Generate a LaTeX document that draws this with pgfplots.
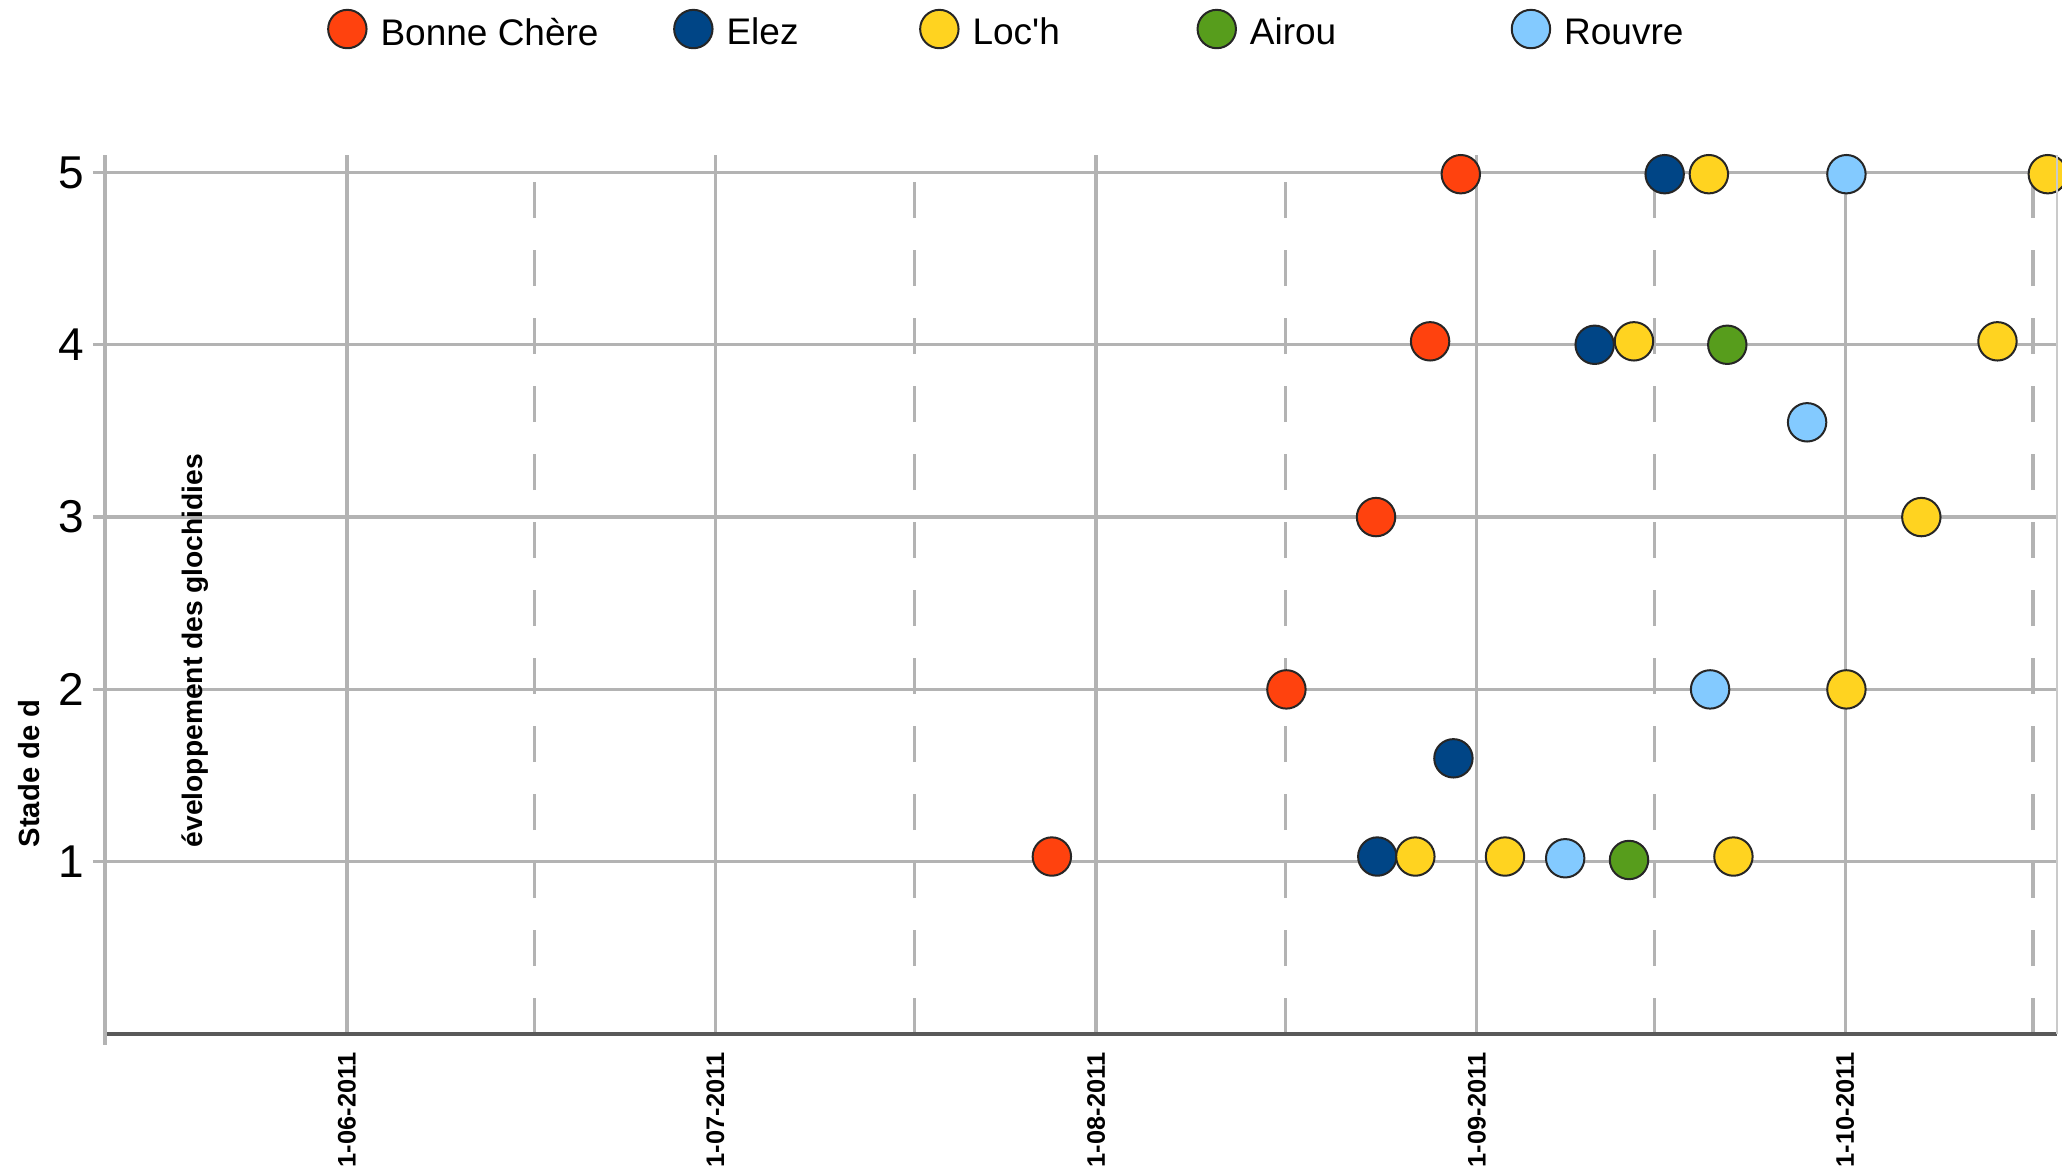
\documentclass[border=0pt]{standalone}
\usepackage{fontspec}
\setmainfont{Liberation Sans}
\usepackage{pgfplots}
\pgfplotsset{compat=1.18}

\definecolor{bonne}{HTML}{FF420E}
\definecolor{elez}{HTML}{004586}
\definecolor{loch}{HTML}{FFD320}
\definecolor{airou}{HTML}{579D1C}
\definecolor{rouvre}{HTML}{83CAFF}
\definecolor{grille}{HTML}{B3B3B3}

% jours comptés depuis le 1er juin 2011
\pgfplotsset{
  pastille/.style={only marks, mark=*, mark size=4.8pt,
    mark options={draw=black!85, line width=0.5pt, fill=#1},
    legend image code/.code={\draw[##1] plot coordinates {(0pt,0pt)};}},
}

\begin{document}
\begin{tikzpicture}
\begin{axis}[
    scale only axis,
    width=488pt, height=219.7pt,
    xmin=-19.7, xmax=139.25,
    ymin=0, ymax=5.1,
    clip=false,
    axis x line*=bottom,
    axis y line*=left,
    x axis line style={draw=black!65, line width=1.2pt},
    y axis line style={draw=grille, line width=0.8pt},
    xtick={0,30,61,92,122},
    xticklabels={1-06-2011,1-07-2011,1-08-2011,1-09-2011,1-10-2011},
    minor xtick={15.3,46.2,76.4,106.5,137.3},
    xtick style={draw=none},
    minor x tick style={draw=none},
    xmajorgrids, xminorgrids,
    major x grid style={grille, line width=0.8pt},
    minor x grid style={grille, line width=0.8pt, dash pattern=on 9pt off 8pt},
    ytick={1,2,3,4,5},
    ymajorgrids,
    major y grid style={grille, line width=0.8pt},
    ytick style={grille, line width=0.8pt},
    ytick align=outside,
    major tick length=3pt,
    /pgf/number format/assume math mode=true,
    xticklabel style={font=\bfseries\fontsize{6.35}{7}\selectfont, rotate=90, anchor=east, inner sep=0pt, xshift=-4.5pt},
    yticklabel style={font=\fontsize{11.5}{12}\selectfont, anchor=east, inner sep=0pt, xshift=-2pt},
    legend columns=5,
    legend style={draw=none, fill=none, inner sep=0pt,
      at={(0.1139,1.1436)}, anchor=west,
      font=\fontsize{9.25}{10}\selectfont,
      nodes={inner sep=0pt},
      /tikz/every odd column/.append style={column sep=3.5pt},
      /tikz/every even column/.append style={column sep=0pt}},
]

\addplot[pastille=bonne] coordinates {
    (57.4,1.03) (76.5,2.0) (83.8,3.0) (88.2,4.02) (90.7,4.99)
};
\addlegendentry{\makebox[73.4pt][l]{\raisebox{-2.7pt}{Bonne Chère}}}

\addplot[pastille=elez] coordinates {
    (83.9,1.03) (90.1,1.6) (101.6,4.0) (107.3,4.99)
};
\addlegendentry{\makebox[48.4pt][l]{\raisebox{-2.7pt}{Elez}}}

\addplot[pastille=loch] coordinates {
    (87.0,1.03) (94.3,1.03) (112.9,1.03) (104.8,4.02) (110.9,4.99)
    (122.1,2.0) (128.2,3.0) (134.4,4.02) (138.5,4.99)
};
\addlegendentry{\makebox[56.25pt][l]{\raisebox{-2.7pt}{Loc\textquotesingle h}}}

\addplot[pastille=airou] coordinates {
    (104.4,1.01) (112.4,4.0)
};
\addlegendentry{\makebox[65.45pt][l]{\raisebox{-2.7pt}{Airou}}}

\addplot[pastille=rouvre] coordinates {
    (99.2,1.02) (111.0,2.0) (118.9,3.55) (122.1,4.99)
};
\addlegendentry{\raisebox{-2.7pt}{Rouvre}}

\coordinate (O) at (rel axis cs:0,0);
\coordinate (SE) at (rel axis cs:1,0);
\coordinate (NE) at (rel axis cs:1,1);
\end{axis}

% bord droit et prolongement de l'axe vertical
\draw[grille!70, line width=0.6pt] (SE) -- (NE);
\draw[grille, line width=0.8pt] (O) -- ++(0,-2.75pt);

% titre de l'axe vertical (coupé comme dans l'original)
\node[rotate=90, anchor=west, inner sep=0pt, font=\bfseries\fontsize{7.3}{8}\selectfont]
  at ([xshift=-19pt, yshift=46.5pt]O) {Stade de d};
\node[rotate=90, anchor=west, inner sep=0pt, font=\bfseries\fontsize{7.05}{8}\selectfont]
  at ([xshift=22.5pt, yshift=46.5pt]O) {éveloppement des glochidies};

\pgfresetboundingbox
\useasboundingbox ([xshift=-26.25pt, yshift=-34pt]O) rectangle ([xshift=489.25pt, yshift=258.5pt]O);
\end{tikzpicture}
\end{document}
